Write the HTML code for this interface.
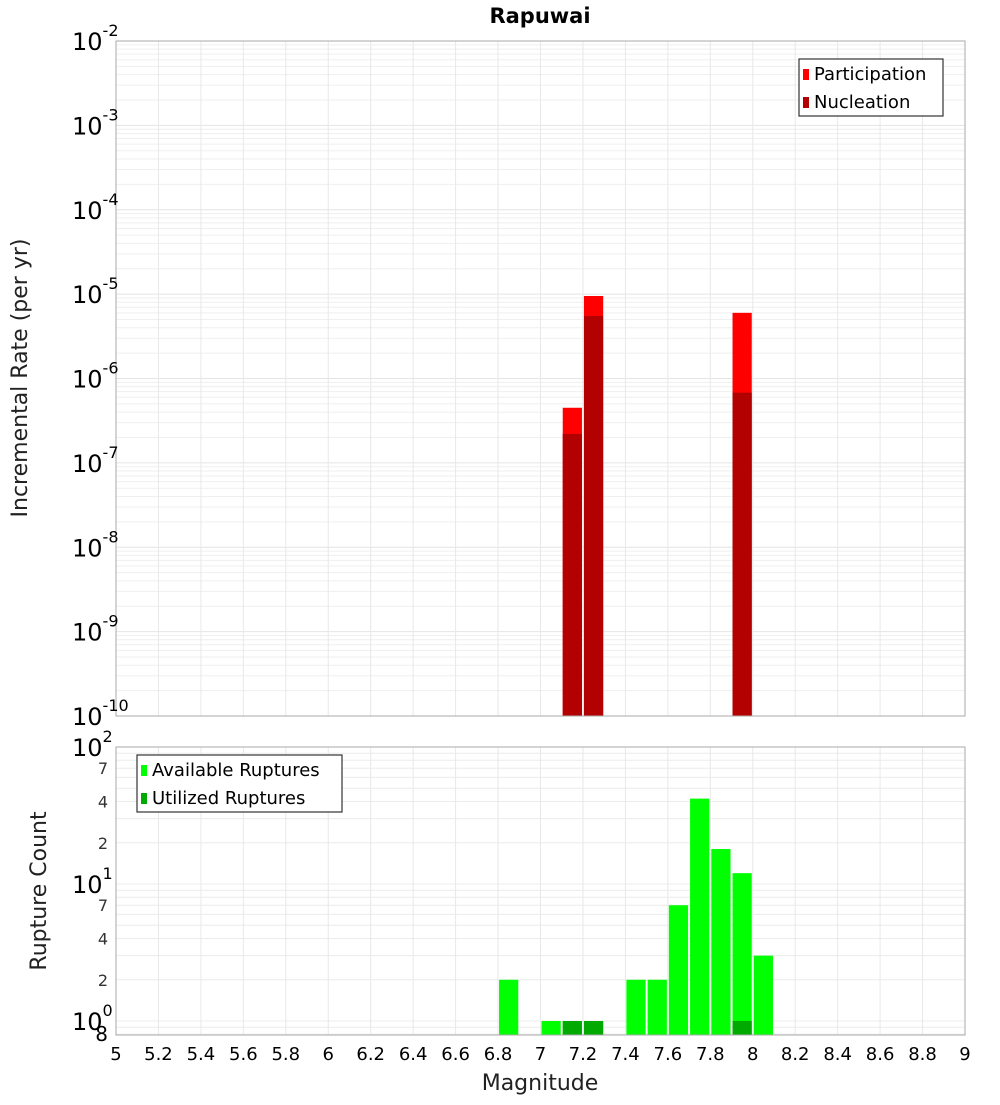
<!DOCTYPE html>
<html><head><meta charset="utf-8"><style>
body{margin:0;background:#fff;}
svg text{font-family:"DejaVu Sans","Liberation Sans",sans-serif;}
</style></head><body>
<svg id="c" width="1000" height="1100" xmlns="http://www.w3.org/2000/svg">
<text x="540" y="23" text-anchor="middle" font-size="21" font-weight="bold">Rapuwai</text>
<g id="gtop"></g><g id="gbot"></g>
<text transform="translate(27,378) rotate(-90)" text-anchor="middle" font-size="22" fill="#222">Incremental Rate (per yr)</text>
<text transform="translate(46,891) rotate(-90)" text-anchor="middle" font-size="22" fill="#222">Rupture Count</text>
<text x="540" y="1090" text-anchor="middle" font-size="22" fill="#222">Magnitude</text>
</svg>
<script>
const mags=[7.1,7.2,7.9];
const participation=[4.5e-7,9.5e-6,6e-6];
const nucleation=[2.2e-7,5.5e-6,6.8e-7];
const countMags=[6.8,7.0,7.1,7.2,7.4,7.5,7.6,7.7,7.8,7.9,8.0];
const available=[2,1,1,1,2,2,7,42,18,12,3];
const utilized=[0,0,1,1,0,0,0,0,0,1,0];
const xTicks=[5,5.2,5.4,5.6,5.8,6,6.2,6.4,6.6,6.8,7,7.2,7.4,7.6,7.8,8,8.2,8.4,8.6,8.8,9];
const topExps=[-2,-3,-4,-5,-6,-7,-8,-9,-10];
const botMinorLabels=[2,4,7];

const NS="http://www.w3.org/2000/svg";
const X0=116,X1=965;
const x=m=>X0+(m-5)/4*(X1-X0);
const TY0=41,TY1=716;
const yT=v=>TY0+(-2-Math.log10(v))/8*(TY1-TY0);
const BY0=747,BY1=1035;
const yB=v=>1021-Math.log10(v)*137;
function mk(p,tag,a,txt){const e=document.createElementNS(NS,tag);for(const k in a)e.setAttribute(k,a[k]);if(txt!==undefined)e.textContent=txt;p.appendChild(e);return e;}
const gTop=document.getElementById('gtop'),gBot=document.getElementById('gbot');

for(let e=-10;e<-2;e++){for(let k=1;k<10;k++){const yy=yT(k*Math.pow(10,e));const l=mk(gTop,'line',{x1:X0,x2:X1,y1:yy,y2:yy,stroke:k==1?'#e4e4e4':'#efefef','stroke-width':1});

}}
for(let e=-1;e<2;e++){for(let k=1;k<10;k++){const v=k*Math.pow(10,e);const yy=yB(v);if(yy>BY1||yy<BY0)continue;const l=mk(gBot,'line',{x1:X0,x2:X1,y1:yy,y2:yy,stroke:'#ececec','stroke-width':1});

}}
xTicks.forEach(t=>{[[TY0,TY1,gTop],[BY0,BY1,gBot]].forEach(([a,b,g])=>{const l=mk(g,'line',{x1:x(t),x2:x(t),y1:a,y2:b,stroke:'#e8e8e8','stroke-width':1});

});});

mags.forEach((m,i)=>{
const r=mk(gTop,'rect',{x:x(m)+1,y:yT(participation[i]),width:x(m+0.1)-x(m)-2,height:TY1-yT(participation[i]),fill:'#ff0000'});


const n=mk(gTop,'rect',{x:x(m)+1,y:yT(nucleation[i]),width:x(m+0.1)-x(m)-2,height:TY1-yT(nucleation[i]),fill:'#b30000'});

});
countMags.forEach((m,i)=>{
const r=mk(gBot,'rect',{x:x(m)+1,y:yB(available[i]),width:x(m+0.1)-x(m)-2,height:BY1-yB(available[i]),fill:'#00ff00'});


if(utilized[i]>0){const u=mk(gBot,'rect',{x:x(m)+1,y:yB(utilized[i]),width:x(m+0.1)-x(m)-2,height:BY1-yB(utilized[i]),fill:'#00aa00'});

}});

const f1=mk(gTop,'rect',{x:X0,y:TY0,width:X1-X0,height:TY1-TY0,fill:'none',stroke:'#aaa'});


const f2=mk(gBot,'rect',{x:X0,y:BY0,width:X1-X0,height:BY1-BY0,fill:'none',stroke:'#aaa'});



topExps.forEach(e=>{const yy=yT(Math.pow(10,e));const t=mk(gTop,'text',{x:72,y:yy+9,'font-size':24});


t.textContent='10';mk(t,'tspan',{dy:-14,'font-size':16},String(e));});
[0,1,2].forEach(e=>{const yy=yB(Math.pow(10,e));const t=mk(gBot,'text',{x:72,y:yy+9,'font-size':24});


t.textContent='10';mk(t,'tspan',{dy:-14,'font-size':16},String(e));});
[0,1].forEach(e=>botMinorLabels.forEach(k=>{const t=mk(gBot,'text',{x:108,y:yB(k*Math.pow(10,e))+6,'font-size':16,'text-anchor':'end',fill:'#333'},String(k));

}));
const t8=mk(gBot,'text',{x:108,y:1041,'font-size':20,'text-anchor':'end'},'8');


xTicks.forEach(t=>{const e=mk(gBot,'text',{x:x(t),y:1060,'font-size':18,'text-anchor':'middle'},String(t));

});

function legend(g,bx,by,w,items,name){const lg=mk(g,'g',{});


mk(lg,'rect',{x:bx,y:by,width:w,height:57,fill:'#fff',stroke:'#333','stroke-width':1.2});
items.forEach((it,i)=>{mk(lg,'rect',{x:bx+4,y:by+10+i*28,width:6,height:11,fill:it[1]});
mk(lg,'text',{x:bx+15,y:by+21+i*28,'font-size':18},it[0]);});}
legend(gTop,799,59,144,[['Participation','#ff0000'],['Nucleation','#b30000']],'top-legend');
legend(gBot,137,755,205,[['Available Ruptures','#00ff00'],['Utilized Ruptures','#00aa00']],'bottom-legend');
</script>
</body></html>
